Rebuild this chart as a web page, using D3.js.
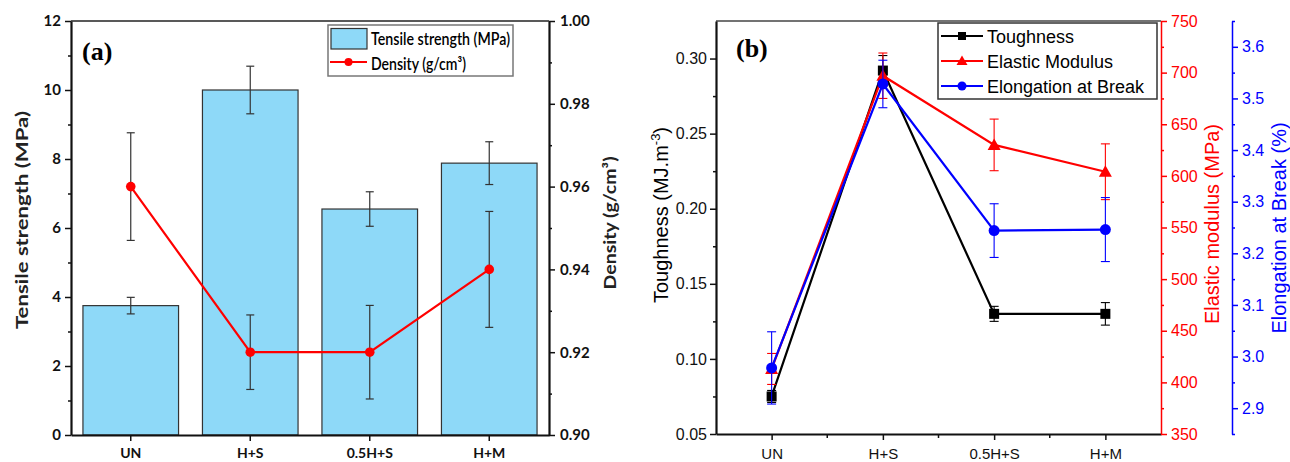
<!DOCTYPE html>
<html><head><meta charset="utf-8">
<script src="https://cdn.jsdelivr.net/npm/d3@7"></script>
<style>body{margin:0;background:#fff} svg{display:block}</style>
</head><body>
<svg id="c" width="1290" height="462"></svg>
<script>
// ---------- data ----------
const categories = ["UN", "H+S", "0.5H+S", "H+M"];
// panel (a)
const tensile = [3.75, 10.0, 6.55, 7.88];
const tensileErr = [0.24, 0.69, 0.5, 0.62];
const density = [0.96, 0.92, 0.92, 0.94];
const densityErr = [0.013, 0.009, 0.0113, 0.014];
const tensileTicks = [0, 2, 4, 6, 8, 10, 12];
const tensileMinor = [1, 3, 5, 7, 9, 11];
const densityTicks = [0.90, 0.92, 0.94, 0.96, 0.98, 1.00];
const densityMinor = [0.91, 0.93, 0.95, 0.97, 0.99];
// panel (b)
const toughness = [0.075, 0.292, 0.13, 0.13];
const toughnessErr = [0.004, 0.01, 0.005, 0.0075];
const modulus = [413, 697, 630, 604];
const modulusErr = [15, 22, 25, 27];
const elongation = [2.978, 3.528, 3.244, 3.246];
const elongationErr = [0.07, 0.046, 0.052, 0.062];
const toughTicks = [0.05, 0.10, 0.15, 0.20, 0.25, 0.30];
const toughMinor = [0.075, 0.125, 0.175, 0.225, 0.275];
const modTicks = [350, 400, 450, 500, 550, 600, 650, 700, 750];
const modMinor = [375, 425, 475, 525, 575, 625, 675, 725];
const elongTicks = [2.9, 3.0, 3.1, 3.2, 3.3, 3.4, 3.5, 3.6];
const elongMinor = [2.85, 2.95, 3.05, 3.15, 3.25, 3.35, 3.45, 3.55, 3.65];

const svg = d3.select("#c");
const fa = "Lato, 'Open Sans', sans-serif";
const fb = "'Liberation Sans', Arial, sans-serif";
const fs = "'Liberation Serif', 'Times New Roman', serif";

function styleAxis(g, color, width, font, size, weight) {
  g.select(".domain").attr("stroke", color).attr("stroke-width", width);
  g.selectAll(".tick line").attr("stroke", color).attr("stroke-width", 1.5);
  g.selectAll(".tick text").attr("fill", color).style("font-family", font)
    .style("font-size", size + "px").style("font-weight", weight);
}
function minorAxis(axisFn, scale, vals, transform, color) {
  const g = svg.append("g").attr("transform", transform)
    .call(axisFn(scale).tickValues(vals).tickSize(3).tickSizeOuter(0).tickFormat(""));
  g.select(".domain").remove();
  g.selectAll(".tick line").attr("stroke", color).attr("stroke-width", 1.5);
}
function errBars(g, xs, vals, errs, yScale, color, cap, w) {
  vals.forEach((v, i) => {
    const x = xs(i), y1 = yScale(v + errs[i]), y2 = yScale(v - errs[i]);
    g.append("line").attr("x1", x).attr("x2", x).attr("y1", y1).attr("y2", y2)
      .attr("stroke", color).attr("stroke-width", w);
    [y1, y2].forEach(y => g.append("line").attr("x1", x - cap).attr("x2", x + cap)
      .attr("y1", y).attr("y2", y).attr("stroke", color).attr("stroke-width", w));
  });
}

// ================= Panel (a) =================
const xA = d3.scaleBand().domain(categories).range([71, 549]).paddingInner(0.2).paddingOuter(0.1);
const yA = d3.scaleLinear().domain([0, 12]).range([435, 21]);
const yD = d3.scaleLinear().domain([0.9, 1.0]).range([435, 21]);
const cxA = i => xA(categories[i]) + xA.bandwidth() / 2;

const gA = svg.append("g");
gA.selectAll("rect.bar").data(tensile).join("rect").attr("class", "bar")
  .attr("x", (d, i) => xA(categories[i])).attr("width", xA.bandwidth())
  .attr("y", d => yA(d)).attr("height", d => yA(0) - yA(d))
  .attr("fill", "#8ED9F8").attr("stroke", "#333").attr("stroke-width", 1.2);
errBars(gA, cxA, tensile, tensileErr, yA, "#333", 4, 1.2);

gA.append("path").datum(density)
  .attr("d", d3.line().x((d, i) => cxA(i)).y(d => yD(d)))
  .attr("fill", "none").attr("stroke", "#FF0000").attr("stroke-width", 2.2);
errBars(gA, cxA, density, densityErr, yD, "#333", 4, 1.2);
gA.selectAll("circle.den").data(density).join("circle").attr("class", "den")
  .attr("cx", (d, i) => cxA(i)).attr("cy", d => yD(d)).attr("r", 4.8).attr("fill", "#FF0000");

// frame top
svg.append("line").attr("x1", 71).attr("x2", 549).attr("y1", 21).attr("y2", 21)
  .attr("stroke", "#222").attr("stroke-width", 1.5);

// axes
const axL = svg.append("g").attr("transform", "translate(71,0)")
  .call(d3.axisLeft(yA).tickValues(tensileTicks).tickSize(6).tickSizeOuter(0).tickPadding(4));
styleAxis(axL, "#111", 2.2, fa, 15, 700);
minorAxis(d3.axisLeft, yA, tensileMinor, "translate(71,0)", "#111");

const axR = svg.append("g").attr("transform", "translate(549,0)")
  .call(d3.axisRight(yD).tickValues(densityTicks).tickSize(6).tickSizeOuter(0).tickPadding(5)
    .tickFormat(d3.format(".2f")));
styleAxis(axR, "#111", 2.2, fa, 15, 700);
minorAxis(d3.axisRight, yD, densityMinor, "translate(549,0)", "#111");

const axB = svg.append("g").attr("transform", "translate(0,435)")
  .call(d3.axisBottom(xA).tickSize(6).tickSizeOuter(0));
styleAxis(axB, "#111", 2.2, fa, 14, 700);
axB.selectAll(".tick text").attr("y", 23).attr("dy", 0);

// titles
svg.append("text").attr("transform", "translate(28,220) rotate(-90)")
  .attr("text-anchor", "middle").style("font-family", fa).style("font-size", "17px")
  .style("font-weight", 700)
  .attr("textLength", 218).attr("lengthAdjust", "spacingAndGlyphs")
  .attr("fill", "#222").text("Tensile strength (MPa)");
svg.append("text").attr("transform", "translate(616,223) rotate(-90)")
  .attr("text-anchor", "middle").style("font-family", fa).style("font-size", "17px")
  .style("font-weight", 700)
  .attr("textLength", 133).attr("lengthAdjust", "spacingAndGlyphs")
  .attr("fill", "#222").text("Density (g/cm³)");
svg.append("text").attr("x", 82).attr("y", 60).style("font-family", fs)
  .style("font-size", "26px").style("font-weight", 700).text("(a)");

// legend (a)
const lgA = svg.append("g");
lgA.append("rect").attr("x", 328).attr("y", 25).attr("width", 185).attr("height", 51)
  .attr("fill", "#fff").attr("stroke", "#777").attr("stroke-width", 1.5);
lgA.append("rect").attr("x", 331).attr("y", 28.5).attr("width", 36).attr("height", 20.5)
  .attr("fill", "#8ED9F8").attr("stroke", "#333").attr("stroke-width", 1.2);
lgA.append("text").attr("x", 371).attr("y", 44.5).style("font-family", fa).style("font-size", "17px")
  .style("font-weight", 600)
  .attr("textLength", 139).attr("lengthAdjust", "spacingAndGlyphs").text("Tensile strength (MPa)");
lgA.append("line").attr("x1", 330).attr("x2", 367).attr("y1", 62).attr("y2", 62)
  .attr("stroke", "#FF0000").attr("stroke-width", 2.2);
lgA.append("circle").attr("cx", 348.5).attr("cy", 62).attr("r", 4).attr("fill", "#FF0000");
lgA.append("text").attr("x", 371).attr("y", 69.5).style("font-family", fa).style("font-size", "17px")
  .style("font-weight", 600)
  .attr("textLength", 95).attr("lengthAdjust", "spacingAndGlyphs").text("Density (g/cm³)");

// ================= Panel (b) =================
const xB = d3.scalePoint().domain(categories).range([716, 1161]).padding(0.5);
const yT = d3.scaleLinear().domain([0.05, 0.325]).range([434, 21]);
const yM = d3.scaleLinear().domain([350, 750]).range([434, 21]);
const yE = d3.scaleLinear().domain([2.85, 3.65]).range([434, 21]);
const cxB = i => xB(categories[i]);

const gB = svg.append("g");
function series(vals, errs, yS, color, marker) {
  gB.append("path").datum(vals)
    .attr("d", d3.line().x((d, i) => cxB(i)).y(d => yS(d)))
    .attr("fill", "none").attr("stroke", color).attr("stroke-width", 2.2);
  errBars(gB, cxB, vals, errs, yS, color, 4.5, 1.1);
  vals.forEach((v, i) => {
    const x = cxB(i), y = yS(v);
    if (marker === "square") gB.append("rect").attr("x", x - 5).attr("y", y - 5).attr("width", 10).attr("height", 10).attr("fill", color);
    else if (marker === "triangle") gB.append("path").attr("d", `M${x},${y - 6.5}L${x + 6.5},${y + 5}L${x - 6.5},${y + 5}Z`).attr("fill", color);
    else gB.append("circle").attr("cx", x).attr("cy", y).attr("r", 5.5).attr("fill", color);
  });
}
series(toughness, toughnessErr, yT, "#000", "square");
series(modulus, modulusErr, yM, "#FF0000", "triangle");
series(elongation, elongationErr, yE, "#0000FF", "circle");

svg.append("line").attr("x1", 716).attr("x2", 1161).attr("y1", 21).attr("y2", 21)
  .attr("stroke", "#444").attr("stroke-width", 1.5);

const bL = svg.append("g").attr("transform", "translate(716,0)")
  .call(d3.axisLeft(yT).tickValues(toughTicks).tickSize(6).tickSizeOuter(0).tickPadding(3)
    .tickFormat(d3.format(".2f")));
styleAxis(bL, "#111", 2.2, fb, 16, 400);
minorAxis(d3.axisLeft, yT, toughMinor, "translate(716,0)", "#111");

const bB = svg.append("g").attr("transform", "translate(0,434)")
  .call(d3.axisBottom(xB).tickSize(6).tickSizeOuter(0));
styleAxis(bB, "#111", 2.2, fb, 15, 400);
bB.selectAll(".tick text").attr("y", 25).attr("dy", 0);
const mids = categories.slice(1).map((c, i) => (xB(c) + xB(categories[i])) / 2);
svg.append("g").selectAll("line").data(mids).join("line")
  .attr("x1", d => d).attr("x2", d => d).attr("y1", 434).attr("y2", 438)
  .attr("stroke", "#111").attr("stroke-width", 1.5);

const bR = svg.append("g").attr("transform", "translate(1161,0)")
  .call(d3.axisRight(yM).tickValues(modTicks).tickSize(6).tickSizeOuter(0).tickPadding(4));
styleAxis(bR, "#FF0000", 1.5, fb, 16, 400);
minorAxis(d3.axisRight, yM, modMinor, "translate(1161,0)", "#FF0000");

const bE = svg.append("g").attr("transform", "translate(1232,0)")
  .call(d3.axisRight(yE).tickValues(elongTicks).tickSize(6).tickSizeOuter(0).tickPadding(4)
    .tickFormat(d3.format(".1f")));
styleAxis(bE, "#0000FF", 1.5, fb, 16, 400);
minorAxis(d3.axisRight, yE, elongMinor, "translate(1232,0)", "#0000FF");

// titles (b)
const tt = svg.append("text").attr("transform", "translate(668,215) rotate(-90)")
  .attr("text-anchor", "middle").style("font-family", fb).style("font-size", "20px").attr("fill", "#000");
tt.append("tspan").text("Toughness (MJ.m");
tt.append("tspan").attr("dy", -8).style("font-size", "13px").text("-3");
tt.append("tspan").attr("dy", 8).text(")");
svg.append("text").attr("transform", "translate(1219,224) rotate(-90)")
  .attr("text-anchor", "middle").style("font-family", fb).style("font-size", "20px")
  .attr("fill", "#FF0000").text("Elastic modulus (MPa)");
svg.append("text").attr("transform", "translate(1286,228) rotate(-90)")
  .attr("text-anchor", "middle").style("font-family", fb).style("font-size", "20px")
  .attr("fill", "#0000FF").text("Elongation at Break (%)");
svg.append("text").attr("x", 736).attr("y", 57).style("font-family", fs)
  .style("font-size", "26px").style("font-weight", 700).text("(b)");

// legend (b)
const lgB = svg.append("g");
lgB.append("rect").attr("x", 938).attr("y", 23).attr("width", 219).attr("height", 76)
  .attr("fill", "#fff").attr("stroke", "#333").attr("stroke-width", 1.5);
const legB = [["Toughness", "#000", "square"], ["Elastic Modulus", "#FF0000", "triangle"], ["Elongation at Break", "#0000FF", "circle"]];
legB.forEach(([name, color, m], i) => {
  const y = 36 + i * 25, x = 962;
  lgB.append("line").attr("x1", 941).attr("x2", 983).attr("y1", y).attr("y2", y)
    .attr("stroke", color).attr("stroke-width", 2.2);
  if (m === "square") lgB.append("rect").attr("x", x - 4).attr("y", y - 4).attr("width", 8).attr("height", 8).attr("fill", color);
  else if (m === "triangle") lgB.append("path").attr("d", `M${x},${y - 5.5}L${x + 5.5},${y + 4}L${x - 5.5},${y + 4}Z`).attr("fill", color);
  else lgB.append("circle").attr("cx", x).attr("cy", y).attr("r", 4.5).attr("fill", color);
  lgB.append("text").attr("x", 987).attr("y", y + 6.5).style("font-family", fb).style("font-size", "18px")
    .attr("fill", "#000").text(name);
});
</script>
</body></html>
